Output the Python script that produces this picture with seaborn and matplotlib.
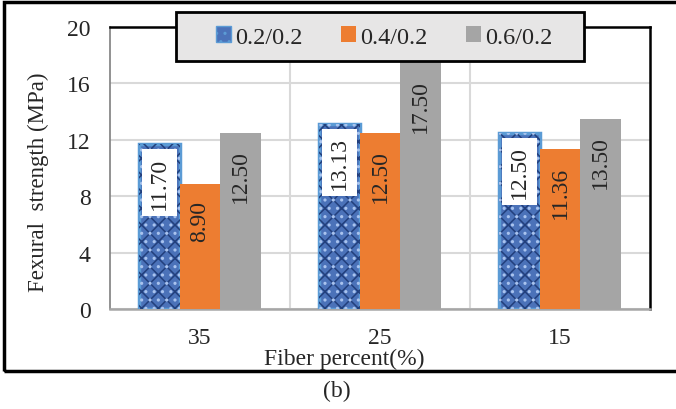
import matplotlib
matplotlib.use("Agg")
import matplotlib.pyplot as plt
from matplotlib.patches import Patch, Rectangle
import seaborn as sns
import pandas as pd

# values
fiber = ["35", "25", "15"]
mixes = ["0.2/0.2", "0.4/0.2", "0.6/0.2"]
s_02 = [11.70, 13.13, 12.50]
s_04 = [8.90, 12.50, 11.36]
s_06 = [12.50, 17.50, 13.50]

rows = []
for mix, vals in zip(mixes, [s_02, s_04, s_06]):
    for f, v in zip(fiber, vals):
        rows.append({"fiber": f, "mix": mix, "strength": v})
data = pd.DataFrame(rows)

sns.set_style("white")
plt.rcParams["font.family"] = ["Liberation Serif", "DejaVu Serif"]
plt.rcParams["hatch.linewidth"] = 1.1

colors = {"0.2/0.2": "#4b72b9", "0.4/0.2": "#ed7d31", "0.6/0.2": "#a5a5a5"}

fig = plt.figure(figsize=(6.76, 4.10), dpi=100)
ax = fig.add_axes([110 / 676, 1 - 310 / 410, 540 / 676, 282 / 410])

sns.barplot(data=data, x="fiber", y="strength", hue="mix", order=fiber,
            hue_order=mixes, palette=colors, width=0.68, gap=0,
            saturation=1, legend=False, ax=ax, zorder=3)

# style the bars by series
n = len(fiber)
blue_bars = ax.patches[:n]
for p in ax.patches[n:]:
    p.set_edgecolor("none")
for p in blue_bars:
    p.set_edgecolor("#5b9bd5")
    p.set_linewidth(2.5)
    # denim-like texture on top
    x0, w, h = p.get_x(), p.get_width(), p.get_height()
    ax.bar(x0, h, width=w, align="edge", facecolor="none", edgecolor="#223f7c",
           hatch="xx", linewidth=0, zorder=3.5)
    ax.bar(x0, h, width=w, align="edge", facecolor="none", edgecolor="#a9c3ee",
           hatch="..", linewidth=0, zorder=3.6)

# value labels, rotated, inside end
for i, p in enumerate(ax.patches[:3 * n]):
    val = p.get_height()
    xc = p.get_x() + p.get_width() / 2
    if i < n:
        ax.annotate(f"{val:.2f}", (xc, val), xytext=(0, -9), textcoords="offset points",
                    rotation=90, ha="center", va="top", fontsize=17, zorder=5,
                    bbox=dict(boxstyle="square,pad=0.3", facecolor="white", edgecolor="none"))
    else:
        ax.annotate(f"{val:.2f}", (xc, val), xytext=(0, -12), textcoords="offset points",
                    rotation=90, ha="center", va="top", fontsize=17, zorder=5)

ax.set_ylim(0, 20)
ax.set_xlim(-0.5, 2.5)
ax.set_yticks([0, 4, 8, 12, 16, 20])
ax.set_xticks([0.5, 1.5], minor=True)
ax.grid(True, axis="y", color="#d9d9d9", linewidth=1.5, zorder=0)
ax.grid(True, axis="x", which="minor", color="#d9d9d9", linewidth=1.5, zorder=0)
ax.set_axisbelow(True)
ax.tick_params(axis="both", which="both", length=0, labelsize=17)
ax.tick_params(axis="y", pad=14)
ax.tick_params(axis="x", pad=13)

for side in ["top", "right"]:
    ax.spines[side].set_color("black")
    ax.spines[side].set_linewidth(1.8)
ax.spines["left"].set_color("#7f7f7f")
ax.spines["left"].set_linewidth(1.2)
ax.spines["bottom"].set_color("#a6a6a6")
ax.spines["bottom"].set_linewidth(1.8)

ax.set_xlabel("Fiber percent(%)", fontsize=17, va="center")
ax.xaxis.set_label_coords(0.433, -0.175)
ax.set_ylabel("Fexural  strength (MPa)", fontsize=16.5, va="center")
ax.yaxis.set_label_coords(-0.133, 0.454)

# legend box drawn as its own rectangle, entries on top
fig.add_artist(Rectangle((176 / 676, 1 - 62 / 410), 408 / 676, 49 / 410,
                         transform=fig.transFigure, facecolor="#e7e6e6",
                         edgecolor="black", linewidth=2, zorder=9))
handles = [
    Patch(facecolor=colors["0.2/0.2"], edgecolor="#5b9bd5", hatch="..", linewidth=1),
    Patch(facecolor=colors["0.4/0.2"], edgecolor="none"),
    Patch(facecolor=colors["0.6/0.2"], edgecolor="none"),
]
leg = fig.legend(handles, mixes, loc="center", bbox_to_anchor=(384 / 676, 1 - 38 / 410),
                 ncol=3, fontsize=17.5, frameon=False,
                 handlelength=0.62, handleheight=0.62, handletextpad=0.15,
                 columnspacing=1.6)
leg.set_zorder(10)

# outer frame around the chart
fig.add_artist(Rectangle((4 / 676, 1 - 372 / 410), 1.0, 369 / 410,
                         transform=fig.transFigure, fill=False,
                         edgecolor="black", linewidth=2.5, clip_on=False))
fig.text(337 / 676, 1 - 391 / 410, "(b)", fontsize=17, ha="center", va="center")

fig.savefig("out.png", dpi=100)
